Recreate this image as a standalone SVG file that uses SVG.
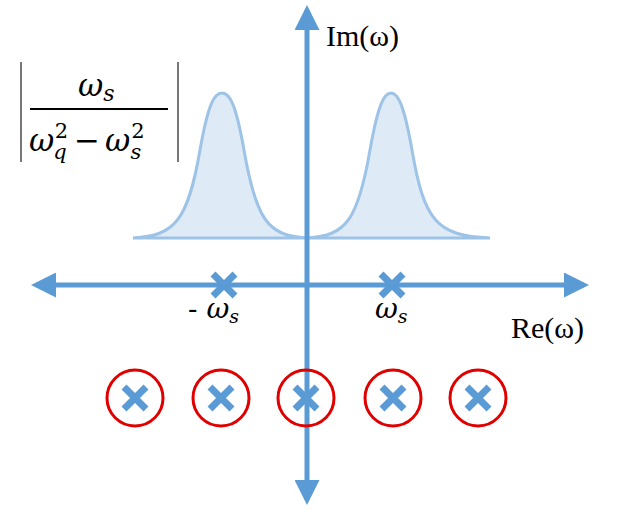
<svg xmlns="http://www.w3.org/2000/svg" width="623" height="510" viewBox="0 0 623 510">
<style>
.ax{stroke:#5b9bd5;stroke-width:5;fill:none}
.x{stroke:#5b9bd5;stroke-width:7;stroke-linecap:butt}
.c{fill:none;stroke:#e00000;stroke-width:3}
.pk{fill:#deebf7;stroke:#9dc3e6;stroke-width:3}
.t{font-family:"Liberation Serif",serif;font-size:30px;fill:#000}
.m{font-family:"DejaVu Serif","Liberation Serif",serif;font-style:italic;fill:#000}
</style>
<defs>
<marker id="ah" viewBox="0 0 10 10" refX="8" refY="5" markerWidth="5" markerHeight="5" orient="auto-start-reverse"><path d="M0,0L10,5L0,10z" fill="#5b9bd5"/></marker>
<g id="cr"><path class="x" d="M-11,-11L11,11M11,-11L-11,11"/></g>
</defs>
<g id="peaks">
<path class="pk" d="M133,238 C175,236 188,220 200,150 C208,105 214,93 222,93 C230,93 236,105 244,150 C256,220 268,236 307,238 Z"/>
<path class="pk" d="M307,238 C346,236 358,220 370,150 C378,105 384,93 391,93 C398,93 404,105 412,150 C424,220 436,236 490,238 Z"/>
</g>
<g id="connectors">
<line class="ax" x1="307" y1="500" x2="307" y2="10" marker-end="url(#ah)" marker-start="url(#ah)"/>
<line class="ax" x1="36" y1="285" x2="584" y2="285" marker-end="url(#ah)" marker-start="url(#ah)"/>
</g>
<g id="poles">
<use href="#cr" x="224" y="285"/>
<use href="#cr" x="392" y="285"/>
</g>
<g id="circles">
<circle class="c" cx="135" cy="398" r="28"/><use href="#cr" x="135" y="398"/>
<circle class="c" cx="221" cy="398" r="28"/><use href="#cr" x="221" y="398"/>
<circle class="c" cx="306" cy="398" r="28"/><use href="#cr" x="306" y="398"/>
<circle class="c" cx="393" cy="398" r="28"/><use href="#cr" x="393" y="398"/>
<circle class="c" cx="478" cy="398" r="28"/><use href="#cr" x="478" y="398"/>
</g>
<g id="formula">
<line x1="21" y1="62" x2="21" y2="162" stroke="#777" stroke-width="2"/>
<line x1="178" y1="62" x2="178" y2="162" stroke="#777" stroke-width="2"/>
<line x1="30" y1="109" x2="168" y2="109" stroke="#000" stroke-width="2"/>
<text class="m" x="78" y="96" font-size="31">ω<tspan font-size="22" dy="5">s</tspan></text>
<text class="m" x="29" y="151" font-size="31">ω<tspan font-size="21" dx="-1" dy="8">q</tspan><tspan font-size="21" font-style="normal" dx="-12" dy="-21">2</tspan><tspan font-style="normal" dx="6" dy="13">−</tspan><tspan dx="5">ω</tspan><tspan font-size="21" dy="8">s</tspan><tspan font-size="21" font-style="normal" dx="-10" dy="-21">2</tspan></text>
</g>
<g id="labels">
<text class="t" x="326" y="46">Im(ω)</text>
<text class="t" x="511" y="338">Re(ω)</text>
<text class="m" x="188" y="318" font-size="28"><tspan font-style="normal">- </tspan>ω<tspan font-size="19" dy="5">s</tspan></text>
<text class="m" x="375" y="318" font-size="28">ω<tspan font-size="19" dy="5">s</tspan></text>
</g>
</svg>
